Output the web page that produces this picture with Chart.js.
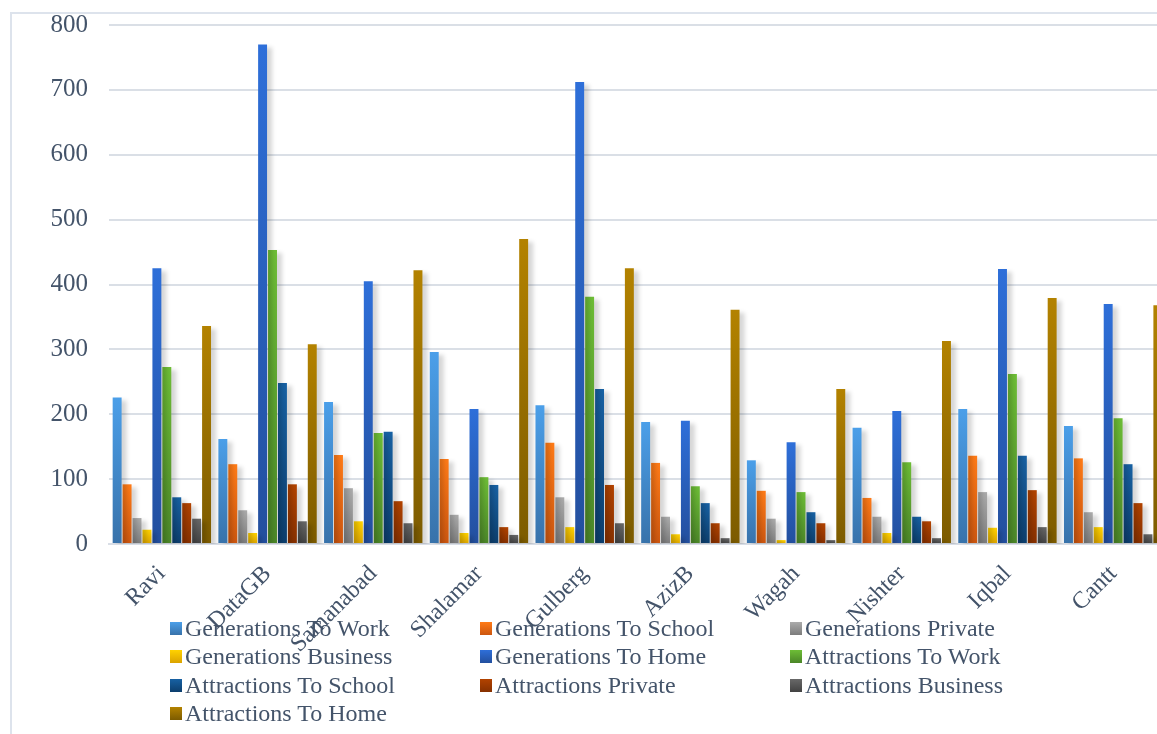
<!DOCTYPE html>
<html>
<head>
<meta charset="utf-8">
<title>Trip Generations and Attractions by Zone</title>
<script src="https://cdn.jsdelivr.net/npm/chart.js@4.4.1/dist/chart.umd.min.js"></script>
<style>
  html, body { margin: 0; padding: 0; background: #fff; overflow: hidden; }
  body { width: 1157px; height: 734px; position: relative; }
  #frame {
    position: absolute; left: 10px; top: 12px; width: 1300px; height: 900px;
    border-left: 2px solid #dde3ec; border-top: 2px solid #dde3ec;
  }
  #chartBox { position: absolute; left: 0; top: 0; width: 1166px; height: 734px; }
  #legend {
    position: absolute; left: 170px; top: 614px;
    display: grid; grid-template-columns: 310px 310px 310px; row-gap: 0;
    font-family: "Liberation Serif", "Times New Roman", serif; font-size: 24px;
    color: #44546a;
  }
  .item { display: flex; align-items: center; height: 28.5px; white-space: nowrap; }
  .swatch { width: 12px; height: 13px; margin-right: 3px; }
</style>
</head>
<body>
<div id="frame"></div>
<div id="chartBox"><canvas id="zoneChart"></canvas></div>
<div id="legend"></div>

<script>
const zones = ["Ravi", "DataGB", "Samanabad", "Shalamar", "Gulberg", "AzizB", "Wagah", "Nishter", "Iqbal", "Cantt"];

const genWork     = [226, 162, 219, 296, 214, 188, 129, 179, 208, 182];
const genSchool   = [92, 123, 137, 131, 156, 125, 82, 71, 136, 132];
const genPrivate  = [40, 52, 86, 45, 72, 42, 39, 42, 80, 49];
const genBusiness = [22, 17, 35, 17, 26, 15, 6, 17, 25, 26];
const genHome     = [425, 770, 405, 208, 712, 190, 157, 205, 424, 370];
const attWork     = [273, 453, 171, 103, 381, 89, 80, 126, 262, 194];
const attSchool   = [72, 248, 173, 91, 239, 63, 49, 42, 136, 123];
const attPrivate  = [63, 92, 66, 26, 91, 32, 32, 35, 83, 63];
const attBusiness = [39, 35, 32, 14, 32, 9, 6, 9, 26, 15];
const attHome     = [336, 308, 422, 470, 425, 361, 239, 313, 379, 368];

const yTicks = [0, 100, 200, 300, 400, 500, 600, 700, 800];

const textColor = "#44546a";
const serif = "'Liberation Serif', 'Times New Roman', serif";

// light top / dark bottom for every series
const series = [
  { label: "Generations To Work",     data: genWork,     top: "#4b9fe9", bottom: "#3872aa" },
  { label: "Generations To School",   data: genSchool,   top: "#ff7b17", bottom: "#cc560f" },
  { label: "Generations Private",     data: genPrivate,  top: "#ababab", bottom: "#7c7c7c" },
  { label: "Generations Business",    data: genBusiness, top: "#ffd200", bottom: "#dba300" },
  { label: "Generations To Home",     data: genHome,     top: "#2e6fd9", bottom: "#234f9e" },
  { label: "Attractions To Work",     data: attWork,     top: "#6dbd36", bottom: "#4b8628" },
  { label: "Attractions To School",   data: attSchool,   top: "#1761a3", bottom: "#0c3e6d" },
  { label: "Attractions Private",     data: attPrivate,  top: "#b24300", bottom: "#863000" },
  { label: "Attractions Business",    data: attBusiness, top: "#686868", bottom: "#424242" },
  { label: "Attractions To Home",     data: attHome,     top: "#b38200", bottom: "#7c5b00" }
];

function barGradient(s){
  return function(ctx){
    const chart = ctx.chart;
    const yScale = chart.scales.y;
    if(!chart.chartArea || !yScale || ctx.type !== "data"){
      return s.top;
    }
    const yTop = yScale.getPixelForValue(ctx.raw);
    const yBottom = yScale.getPixelForValue(0);
    if(!isFinite(yTop) || yBottom - yTop < 1){
      return s.bottom;
    }
    const g = chart.ctx.createLinearGradient(0, yTop, 0, yBottom);
    g.addColorStop(0, s.top);
    g.addColorStop(1, s.bottom);
    return g;
  };
}

// soft drop shadow to the right of each bar
const barShadow = {
  id: "barShadow",
  beforeDatasetDraw(chart){
    const c = chart.ctx;
    c.save();
    c.shadowColor = "rgba(0, 0, 0, 0.16)";
    c.shadowBlur = 4;
    c.shadowOffsetX = 5;
    c.shadowOffsetY = 3;
  },
  afterDatasetDraw(chart){
    chart.ctx.restore();
  }
};

const ctx = document.getElementById("zoneChart").getContext("2d");

const chart = new Chart(ctx, {
  type: "bar",
  data: {
    labels: zones,
    datasets: series.map(s => ({
      label: s.label,
      data: s.data,
      backgroundColor: barGradient(s),
      borderWidth: 0,
      categoryPercentage: 0.94,
      barPercentage: 0.9
    }))
  },
  options: {
    responsive: true,
    maintainAspectRatio: false,
    animation: false,
    devicePixelRatio: 1,
    layout: { padding: { top: 25, left: 0, right: 0, bottom: 0 } },
    plugins: {
      legend: { display: false },
      tooltip: { enabled: false }
    },
    scales: {
      x: {
        grid: { display: false, drawTicks: false },
        border: { display: true, color: "#d9dee6", width: 2 },
        ticks: {
          color: textColor,
          font: { family: serif, size: 24 },
          minRotation: 45,
          maxRotation: 45,
          padding: 16
        },
        afterFit(scale){ scale.height = 190; }
      },
      y: {
        min: 0,
        max: 800,
        afterBuildTicks(scale){ scale.ticks = yTicks.map(v => ({ value: v })); },
        grid: { color: "#dadfe6", lineWidth: 2, drawTicks: false },
        border: { display: false },
        ticks: {
          color: textColor,
          font: { family: serif, size: 25 },
          padding: 21
        },
        afterFit(scale){
          scale.width = 109;
          scale.paddingTop = 0;
          scale.paddingBottom = 0;
        }
      }
    }
  },
  plugins: [barShadow]
});

function renderLegend(){
  const box = document.getElementById("legend");
  box.innerHTML = "";
  series.forEach(s => {
    const item = document.createElement("div");
    item.className = "item";
    const sw = document.createElement("span");
    sw.className = "swatch";
    sw.style.background = `linear-gradient(${s.top}, ${s.bottom})`;
    const txt = document.createElement("span");
    txt.textContent = s.label;
    item.appendChild(sw);
    item.appendChild(txt);
    box.appendChild(item);
  });
}

renderLegend();
</script>
</body>
</html>
